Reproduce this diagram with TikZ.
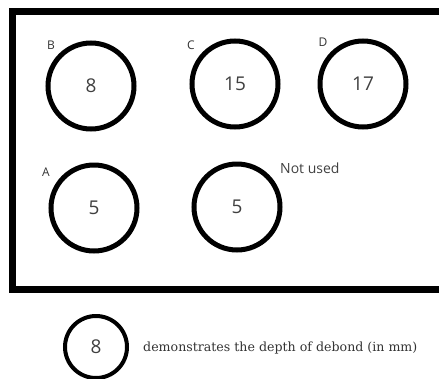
\documentclass[tikz,border=0pt]{standalone}
\usepackage{fontspec}
\setmainfont{Open Sans}
\newfontfamily\legendfont{DejaVu Serif}
\begin{document}
\begin{tikzpicture}[x=1pt,y=-1pt,
  hole/.style={circle,draw=black,line width=5pt,minimum size=86pt,inner sep=0pt,font=\fontsize{19}{19}\selectfont,text=black!75},
  letter/.style={inner sep=0pt,font=\fontsize{12}{12}\selectfont,text=black!80},
  note/.style={inner sep=0pt,font=\fontsize{14}{14}\selectfont,text=black!75}]
\useasboundingbox (0,0) rectangle (439,378);
\clip (0,0) rectangle (439,378);
\draw[line width=7pt] (460,11) -- (12.5,11) -- (12.5,289) -- (460,289);
\node[hole] (b) at (91,86) {8};
\node[hole] (c) at (235,84) {15};
\node[hole] (d) at (363,84) {17};
\node[hole] (a) at (94,208) {5};
\node[hole] (n) at (237,207) {5};
\node[letter] (lb) at (51,45) {B};
\node[letter] (lc) at (191,45) {C};
\node[letter] (ld) at (323,42) {D};
\node[letter] (la) at (46,172) {A};
\node[note,anchor=west] (ln) at (280,168) {Not used};
\node[hole,minimum size=62pt,line width=4pt] (leg) at (96,347) {8};
\node[inner sep=0pt,anchor=west,font=\legendfont\fontsize{12.6}{12.6}\selectfont,text=black!80] (lt) at (143,348) {demonstrates the depth of debond (in mm)};
\end{tikzpicture}
\end{document}
